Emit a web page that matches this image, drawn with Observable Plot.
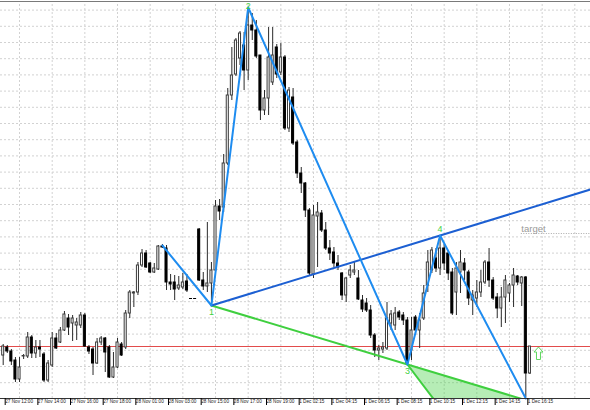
<!DOCTYPE html>
<html><head><meta charset="utf-8">
<script src="https://cdn.jsdelivr.net/npm/d3@7"></script>
<script src="https://cdn.jsdelivr.net/npm/@observablehq/plot@0.6"></script>
<style>html,body{margin:0;padding:0;background:#fff;} #chart svg{display:block;background:#fff;}</style>
</head><body><div id="chart"></div>
<script>
// Candle values (price points), one per M15 bar
const opens = [45,53,49,40,21,44,44,63,47,53, 46,20,35,62,58,70,82,77,75,75, 85,53,51,37,58,62,53,23,33,56,
  53,87,107,108,135,147,137,128,131,154, 152,118,118,112,113,119,102,102,171,120, 114,117,130,194,193,237,305,326,342,355,
  330,375,370,345,290,302,318,353,328,343, 272,303,258,227,217,190,126,184,187,170, 152,148,137,127,105,125,128,122,100,97,
  90,65,50,51,52,77,75,88,85,80, 50,83,70,82,115,130,142,132,152,147, 128,108,128,137,128,100,102,108,118,138,
  120,103,92,103,107,115,124,117,123,27];
const highs = [56,55,51,43,43,46,68,65,60,60, 48,40,68,67,73,89,86,85,82,88, 87,55,53,62,64,63,55,48,62,58,
  90,110,109,138,151,150,138,137,155,156, 155,126,125,124,127,126,102,102,172,128, 178,138,200,201,246,312,353,362,369,368,
  393,387,380,345,310,373,373,356,357,345, 313,312,260,233,218,192,195,198,190,178, 160,153,145,128,123,135,138,130,105,102,
  95,67,55,58,98,90,93,90,88,83, 83,85,87,115,150,153,152,165,156,150, 132,138,150,142,130,110,120,130,140,152,
  123,107,113,125,117,132,125,124,124,54];
const lows = [35,47,35,18,18,41,42,42,42,43, 18,18,33,51,57,69,65,59,60,72, 53,46,25,36,55,28,22,22,32,44,
  51,82,93,105,133,132,127,127,130,152, 110,110,100,110,111,108,102,102,119,110, 108,95,128,180,188,235,300,324,335,310,
  320,360,342,280,285,285,315,322,325,270, 268,255,222,207,183,124,122,133,168,150, 140,133,130,100,98,122,125,100,88,88,
  62,43,40,47,50,70,70,80,75,36, 40,65,52,80,108,127,128,125,130,120, 85,85,107,120,95,85,93,103,116,113,
  100,82,73,77,98,93,115,94,3,26];
const closes = [54,49,39,21,33,44.5,63,47,53,51, 20,37,62,52,70,86,73,82,78,85, 54,49,37,58,62,48,23,33,58,45,
  87,108,108,135,147,133,128,132,154,153, 118,116,111,115,118,110,102,102,120,114, 117,130,194,189,237,305,325,360,367,330,
  375,370,344,290,302,343,345,326,343,272, 310,257,227,217,190,127,185,188,170,152, 147,137,133,105,122,130,130,101,91,90,
  65,50,52,53,82,86,87,83,80,37, 70,70,80,107,138,150,132,152,137,127, 87,132,138,130,102,105,108,118,138,120,
  102,92,103,120,115,125,118,123,27,54];

// Time labels, one every 8 bars starting at bar 0
const tickLabels = ["27 Nov 12:00","27 Nov 14:00","27 Nov 16:00","27 Nov 18:00","28 Nov 01:00","28 Nov 03:00",
  "28 Nov 15:00","28 Nov 17:00","28 Nov 19:00","1 Dec 02:15","1 Dec 04:15","1 Dec 06:15","1 Dec 08:15",
  "1 Dec 10:15","1 Dec 12:15","1 Dec 14:15","1 Dec 16:15"];

// Wolfe wave pivots (bar index, price)
const waveBars = [39, 51, 60, 99, 107, 128];
const waveVals = [155, 95, 393, 36, 165, 2];
const waveNames = ["", "1", "2", "3", "4", ""];
const labelVals = [null, 88, 394, 29, 171, null];

const redLevel = 54;
const targetLevel = 167;
const targetBar = 126.9;
const sweetZoneBar = 105.5, sweetZoneVal = 1;
const arrowBar = 131.1, arrowVal = 47;

// ---------- build ----------
const xDomain = [-0.661, 143.84];
const yDomain = [2, 399];
const candles = opens.map((o, i) => ({i, o, h: highs[i], l: lows[i], c: closes[i]}));
const ups = candles.filter(d => d.c > d.o);
const downs = candles.filter(d => d.c < d.o);
const flats = candles.filter(d => d.c === d.o);
const pts = waveBars.map((b, k) => ({i: b, v: waveVals[k]}));
const [PA, P1, P2, P3, P4, P5] = pts;
const s14 = (P4.v - P1.v) / (P4.i - P1.i);
const end14 = {i: xDomain[1], v: P1.v + s14 * (xDomain[1] - P1.i)};
const s13 = (P3.v - P1.v) / (P3.i - P1.i);
const end13 = {i: P5.i, v: P1.v + s13 * (P5.i - P1.i)};
const zone = [P3, {i: sweetZoneBar, v: sweetZoneVal}, end13];
const labels = waveBars.map((b, k) => ({i: b, v: labelVals[k], t: waveNames[k]})).filter(d => d.t);
const hw = 0.25;
const gridY = d3.range(17.8, 399, 16.2);
const gridX = d3.range(4, 145, 8);
const tickBars = tickLabels.map((_, k) => k * 8);

// hollow up-arrow symbol (MT4 buy arrow)
const upArrow = {
  draw(ctx) {
    ctx.moveTo(0, -6.5); ctx.lineTo(4.5, -1.5); ctx.lineTo(2, -1.5); ctx.lineTo(2, 6);
    ctx.lineTo(-2, 6); ctx.lineTo(-2, -1.5); ctx.lineTo(-4.5, -1.5); ctx.closePath();
  }
};

const blue = "#1e8cf0", darkBlue = "#1c5fd2", green = "#3fcf3f";

const chart = Plot.plot({
  width: 590, height: 410,
  marginLeft: 0, marginRight: 0, marginTop: 1, marginBottom: 12,
  x: {domain: xDomain, axis: null, label: null},
  y: {domain: yDomain, axis: null, label: null},
  style: {fontFamily: "'Liberation Sans', Arial, sans-serif", background: "#fff"},
  marks: [
    Plot.ruleY(gridY, {stroke: "#d2d2d2", strokeDasharray: "2,2", strokeWidth: 1}),
    Plot.ruleX(gridX, {y1: yDomain[0], y2: yDomain[1], stroke: "#d2d2d2", strokeDasharray: "2,2", strokeWidth: 1}),
    Plot.ruleY([redLevel], {stroke: "#e24c4c", strokeWidth: 1}),
    Plot.ruleY([targetLevel], {x1: targetBar, x2: xDomain[1], stroke: "#aaa", strokeDasharray: "1,1.5", strokeWidth: 1}),
    Plot.text([{i: targetBar, v: targetLevel + 4.5}], {x: "i", y: "v", text: () => "target", textAnchor: "start",
      fill: "#9a9a9a", fontSize: 9.5}),
    Plot.line(zone, {x: "i", y: "v", fill: green, fillOpacity: 0.38, stroke: "none", clip: true}),
    Plot.ruleX(candles, {x: "i", y1: "l", y2: "h", stroke: "#2a2a2a", strokeWidth: 1}),
    Plot.rect(ups, {x1: d => d.i - hw, x2: d => d.i + hw, y1: "o", y2: "c", fill: "#fff", stroke: "#3a3a3a", strokeWidth: 1}),
    Plot.rect(downs, {x1: d => d.i - hw, x2: d => d.i + hw, y1: "o", y2: "c", fill: "#000", stroke: "#000", strokeWidth: 1}),
    Plot.ruleY(flats, {y: "o", x1: d => d.i - hw - 0.12, x2: d => d.i + hw + 0.12, stroke: "#000", strokeWidth: 1}),
    Plot.line([P1, end13], {x: "i", y: "v", stroke: green, strokeWidth: 2, clip: true}),
    Plot.line([P3, zone[1]], {x: "i", y: "v", stroke: green, strokeWidth: 2, clip: true}),
    Plot.line([P1, end14], {x: "i", y: "v", stroke: darkBlue, strokeWidth: 2}),
    Plot.line(pts, {x: "i", y: "v", stroke: blue, strokeWidth: 2}),
    Plot.text(labels, {x: "i", y: "v", text: "t", fill: green, fontSize: 9}),
    Plot.dot([{i: arrowBar, v: arrowVal}], {x: "i", y: "v", symbol: upArrow, r: 5, fill: "#fff",
      stroke: "#5fd85f", strokeWidth: 1}),
    Plot.ruleY([yDomain[1]], {stroke: "#7a7a7a", strokeWidth: 1}),
    Plot.ruleY([yDomain[0]], {stroke: "#333", strokeWidth: 1}),
    Plot.axisX({ticks: tickBars, tickFormat: d => tickLabels[Math.round(d / 8)], tickSize: 7, tickPadding: -6,
      textAnchor: "start", dx: 2, fontSize: 4.7, fill: "#222", label: null})
  ]
});
document.getElementById("chart").appendChild(chart);
</script>
</body></html>
